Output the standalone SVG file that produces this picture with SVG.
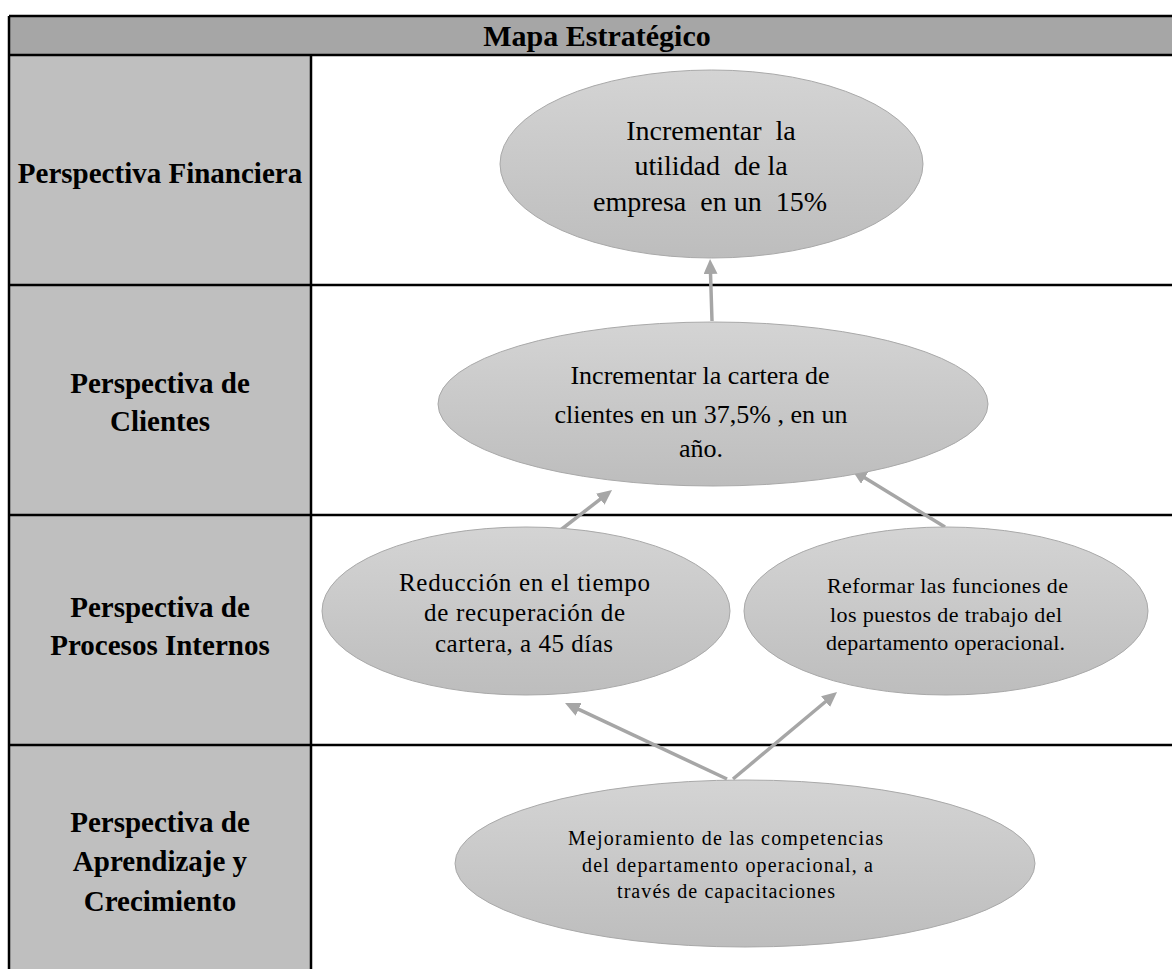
<svg xmlns="http://www.w3.org/2000/svg" width="1172" height="969" viewBox="0 0 1172 969">
  <style>
    .grid { stroke: #000; stroke-width: 2.5; fill: none; }
    .head { font-family: "Liberation Serif", "Times New Roman", serif; font-weight: bold; font-size: 30px; fill: #000; text-anchor: middle; }
    .label { font-family: "Liberation Serif", "Times New Roman", serif; font-weight: bold; font-size: 29px; fill: #000; text-anchor: middle; }
    .node ellipse { fill: url(#nodeFill); stroke: #a9a9a9; stroke-width: 1; }
    .node text { font-family: "Liberation Serif", "Times New Roman", serif; fill: #000; text-anchor: middle; }
    .link { stroke: #a6a6a6; stroke-width: 3.5; fill: none; marker-end: url(#arrow); }
  </style>
  <defs>
    <linearGradient id="nodeFill" x1="0" y1="0" x2="0" y2="1">
      <stop offset="0" stop-color="#d4d4d4"/>
      <stop offset="1" stop-color="#bdbdbd"/>
    </linearGradient>
    <marker id="arrow" markerUnits="userSpaceOnUse" markerWidth="16" markerHeight="14" refX="1" refY="7" orient="auto">
      <path d="M0,0 L15,7 L0,14 z" fill="#a6a6a6"/>
    </marker>
  </defs>

  <rect width="1172" height="969" fill="#fff"/>

  <!-- table: title band, perspective column, row rules -->
  <g id="table">
    <rect x="9" y="16" width="1163" height="39" fill="#a6a6a6"/>
    <rect x="9" y="55" width="302" height="914" fill="#bfbfbf"/>
    <path class="grid" d="M9,16 H1172 M9,55 H1172 M9,285 H1172 M9,515 H1172 M9,745 H1172 M9,16 V969 M311,55 V969"/>
    <text class="head" x="597" y="46">Mapa Estratégico</text>
  </g>

  <g id="perspectives">
    <text class="label" x="160" y="183">Perspectiva Financiera</text>
    <text class="label" x="160" y="393">Perspectiva de</text>
    <text class="label" x="160" y="431">Clientes</text>
    <text class="label" x="160" y="617">Perspectiva de</text>
    <text class="label" x="160" y="655">Procesos Internos</text>
    <text class="label" x="160" y="832">Perspectiva de</text>
    <text class="label" x="160" y="871">Aprendizaje y</text>
    <text class="label" x="160" y="911">Crecimiento</text>
  </g>

  <!-- connectors -->
  <g id="connectors">
    <line class="link" x1="712" y1="321" x2="710.5" y2="273"/>
    <line class="link" x1="558" y1="532" x2="601" y2="498.6"/>
    <line class="link" x1="945" y1="527" x2="863.9" y2="477.3"/>
    <line class="link" x1="727" y1="779" x2="577.7" y2="708.9"/>
    <line class="link" x1="733" y1="779" x2="826.3" y2="701"/>
  </g>

  <g id="utilidad" class="node">
    <ellipse cx="711.5" cy="164" rx="211.5" ry="94"/>
    <text font-size="28" xml:space="preserve"><tspan x="711" y="140">Incrementar  la</tspan><tspan x="711" y="175">utilidad  de la</tspan><tspan x="710" y="211">empresa  en un  15%</tspan></text>
  </g>

  <g id="cartera" class="node">
    <ellipse cx="713" cy="404" rx="275" ry="82"/>
    <text font-size="26" xml:space="preserve"><tspan x="700" y="384">Incrementar la cartera de</tspan><tspan x="701" y="423">clientes en un 37,5% , en un</tspan><tspan x="701" y="457">año.</tspan></text>
  </g>

  <g id="recuperacion" class="node">
    <ellipse cx="526" cy="611" rx="204" ry="84"/>
    <text font-size="25"><tspan x="524.5" y="591" textLength="251" lengthAdjust="spacing">Reducción en el tiempo</tspan><tspan x="524.5" y="621" textLength="201" lengthAdjust="spacing">de recuperación de</tspan><tspan x="524" y="652" textLength="178" lengthAdjust="spacing">cartera, a 45 días</tspan></text>
  </g>

  <g id="funciones" class="node">
    <ellipse cx="946" cy="611" rx="202" ry="84"/>
    <text font-size="22"><tspan x="947.5" y="593" textLength="241" lengthAdjust="spacing">Reformar las funciones de</tspan><tspan x="946" y="622" textLength="232" lengthAdjust="spacing">los puestos de trabajo del</tspan><tspan x="945.5" y="650" textLength="239" lengthAdjust="spacing">departamento operacional.</tspan></text>
  </g>

  <g id="competencias" class="node">
    <ellipse cx="745" cy="863.5" rx="290" ry="83.5"/>
    <text font-size="20"><tspan x="725.5" y="845" textLength="315" lengthAdjust="spacing">Mejoramiento de las competencias</tspan><tspan x="727.5" y="872" textLength="291" lengthAdjust="spacing">del departamento operacional, a</tspan><tspan x="726" y="898" textLength="218" lengthAdjust="spacing">través de capacitaciones</tspan></text>
  </g>
</svg>
